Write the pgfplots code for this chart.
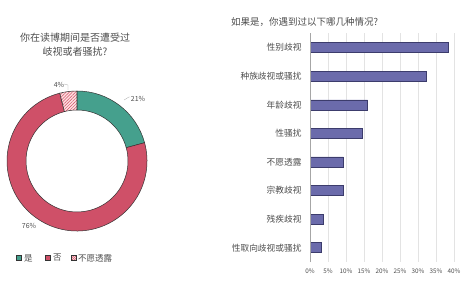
\documentclass[border=0pt]{standalone}
\usepackage{fontspec}
\setmainfont{Noto Sans CJK SC}
\usepackage{pgfplots}
\pgfplotsset{compat=1.18}
\usepackage{pgfplotstable}
\usetikzlibrary{patterns,patterns.meta}
\definecolor{tealc}{HTML}{45A08D}
\definecolor{redc}{HTML}{CF5068}
\definecolor{barc}{HTML}{6B6BAB}
\definecolor{bard}{HTML}{3C3C6C}
\definecolor{txt}{HTML}{4D4D4D}
\definecolor{edge}{HTML}{333333}

\pgfplotstableread{
label value
{性取向歧视或骚扰} 3.1
{残疾歧视} 3.8
{宗教歧视} 9.3
{不愿透露} 9.3
{性骚扰} 14.4
{年龄歧视} 16.0
{种族歧视或骚扰} 32.4
{性别歧视} 38.5
}\bars

% donut values (percent)
\def\pYes{21}
\def\pNo{76}
\def\pNa{4}

\begin{document}
\begin{tikzpicture}
\useasboundingbox (0,0) rectangle (470pt,289pt);
\pgfmathsetmacro{\tot}{\pYes+\pNo+\pNa}
\pgfmathsetmacro{\aA}{90}
\pgfmathsetmacro{\aB}{90-(\pYes/\tot)*360}
\pgfmathsetmacro{\aC}{\aB-(\pNo/\tot)*360}
\pgfmathsetmacro{\aD}{\aC-(\pNa/\tot)*360}

% ---------- donut ----------
\begin{axis}[at={(77pt,128pt)}, anchor=center, scale only axis,
  width=150pt, height=150pt, xmin=-75, xmax=75, ymin=-75, ymax=75, hide axis]
\addplot[draw=none] coordinates {(0,0)};
\begin{scope}[shift={(axis cs:0,0)}]
\filldraw[fill=tealc, draw=edge, line width=0.5pt]
  (\aA:70pt) arc[start angle=\aA, end angle=\aB, radius=70pt]
  -- (\aB:51pt) arc[start angle=\aB, end angle=\aA, radius=51pt] -- cycle;
\filldraw[fill=redc, draw=edge, line width=0.5pt]
  (\aB:70pt) arc[start angle=\aB, end angle=\aC, radius=70pt]
  -- (\aC:51pt) arc[start angle=\aC, end angle=\aB, radius=51pt] -- cycle;
\fill[red!12]
  (\aC:70pt) arc[start angle=\aC, end angle=\aD, radius=70pt]
  -- (\aD:51pt) arc[start angle=\aD, end angle=\aC, radius=51pt] -- cycle;
\filldraw[pattern={Lines[angle=45,distance=2.2pt,line width=0.5pt]}, pattern color=redc, draw=edge, line width=0.5pt]
  (\aC:70pt) arc[start angle=\aC, end angle=\aD, radius=70pt]
  -- (\aD:51pt) arc[start angle=\aD, end angle=\aC, radius=51pt] -- cycle;
\end{scope}
\end{axis}

% donut labels
\node[txt, font=\fontsize{7}{8}\selectfont] at (138pt,190pt) {21\%};
\draw[gray!70, line width=0.3pt] (124pt,189pt) -- (129pt,192pt) -- (130pt,192pt);
\node[txt, font=\fontsize{7}{8}\selectfont] at (59pt,204pt) {4\%};
\draw[gray!70, line width=0.3pt] (64pt,205pt) -- (68pt,204pt) -- (68pt,199pt);
\node[txt, font=\fontsize{7}{8}\selectfont] at (29pt,63pt) {76\%};

% left title
\node[txt, align=center, font=\fontsize{10}{14}\selectfont] at (75pt,244pt) {你在读博期间是否遭受过\\岐视或者骚扰?};

% legend
\begin{scope}[font=\fontsize{8.5}{9}\selectfont, txt]
\filldraw[fill=tealc, draw=edge, line width=0.5pt] (16.5pt,28.5pt) rectangle (21.5pt,33.5pt);
\node[anchor=west, inner sep=0pt] at (24pt,31pt) {是};
\filldraw[fill=redc, draw=edge, line width=0.5pt] (45.5pt,28.5pt) rectangle (50.5pt,33.5pt);
\node[anchor=west, inner sep=0pt] at (53pt,31pt) {否};
\fill[red!12] (71.5pt,28.5pt) rectangle (76.5pt,33.5pt);
\filldraw[pattern={Lines[angle=45,distance=1.6pt,line width=0.4pt]}, pattern color=redc, draw=edge, line width=0.5pt] (71.5pt,28.5pt) rectangle (76.5pt,33.5pt);
\node[anchor=west, inner sep=0pt] at (78pt,31pt) {不愿透露};
\end{scope}

% right title
\node[txt, anchor=west, inner sep=0pt, font=\fontsize{9.5}{10}\selectfont] at (231pt,267pt) {如果是，你遇到过以下哪几种情况?};

% ---------- bar chart ----------
\begin{axis}[at={(310pt,27pt)}, anchor=south west, scale only axis,
  width=144pt, height=228.6pt,
  xbar, bar width=10pt,
  xmin=0, xmax=40, ymin=-0.5, ymax=7.5,
  xtick={0,5,...,40}, ytick={0,...,7},
  yticklabels from table={\bars}{label},
  xticklabel={\pgfmathprintnumber{\tick}\%},
  /pgf/number format/assume math mode=true,
  axis line style={draw=none},
  major tick length=0pt,
  xmajorgrids, grid style={gray!22, line width=0.4pt},
  xticklabel style={font=\fontsize{6.3}{7}\selectfont, text=txt, yshift=-3pt},
  yticklabel style={font=\fontsize{8.7}{9}\selectfont, text=txt, xshift=-5pt},
]
\addplot[fill=barc, draw=bard, line width=0.5pt] table[x=value, y expr=\coordindex] {\bars};
\draw[gray!70, line width=0.5pt] (axis cs:0,-0.5) -- (axis cs:0,7.5);
\end{axis}
\end{tikzpicture}
\end{document}
